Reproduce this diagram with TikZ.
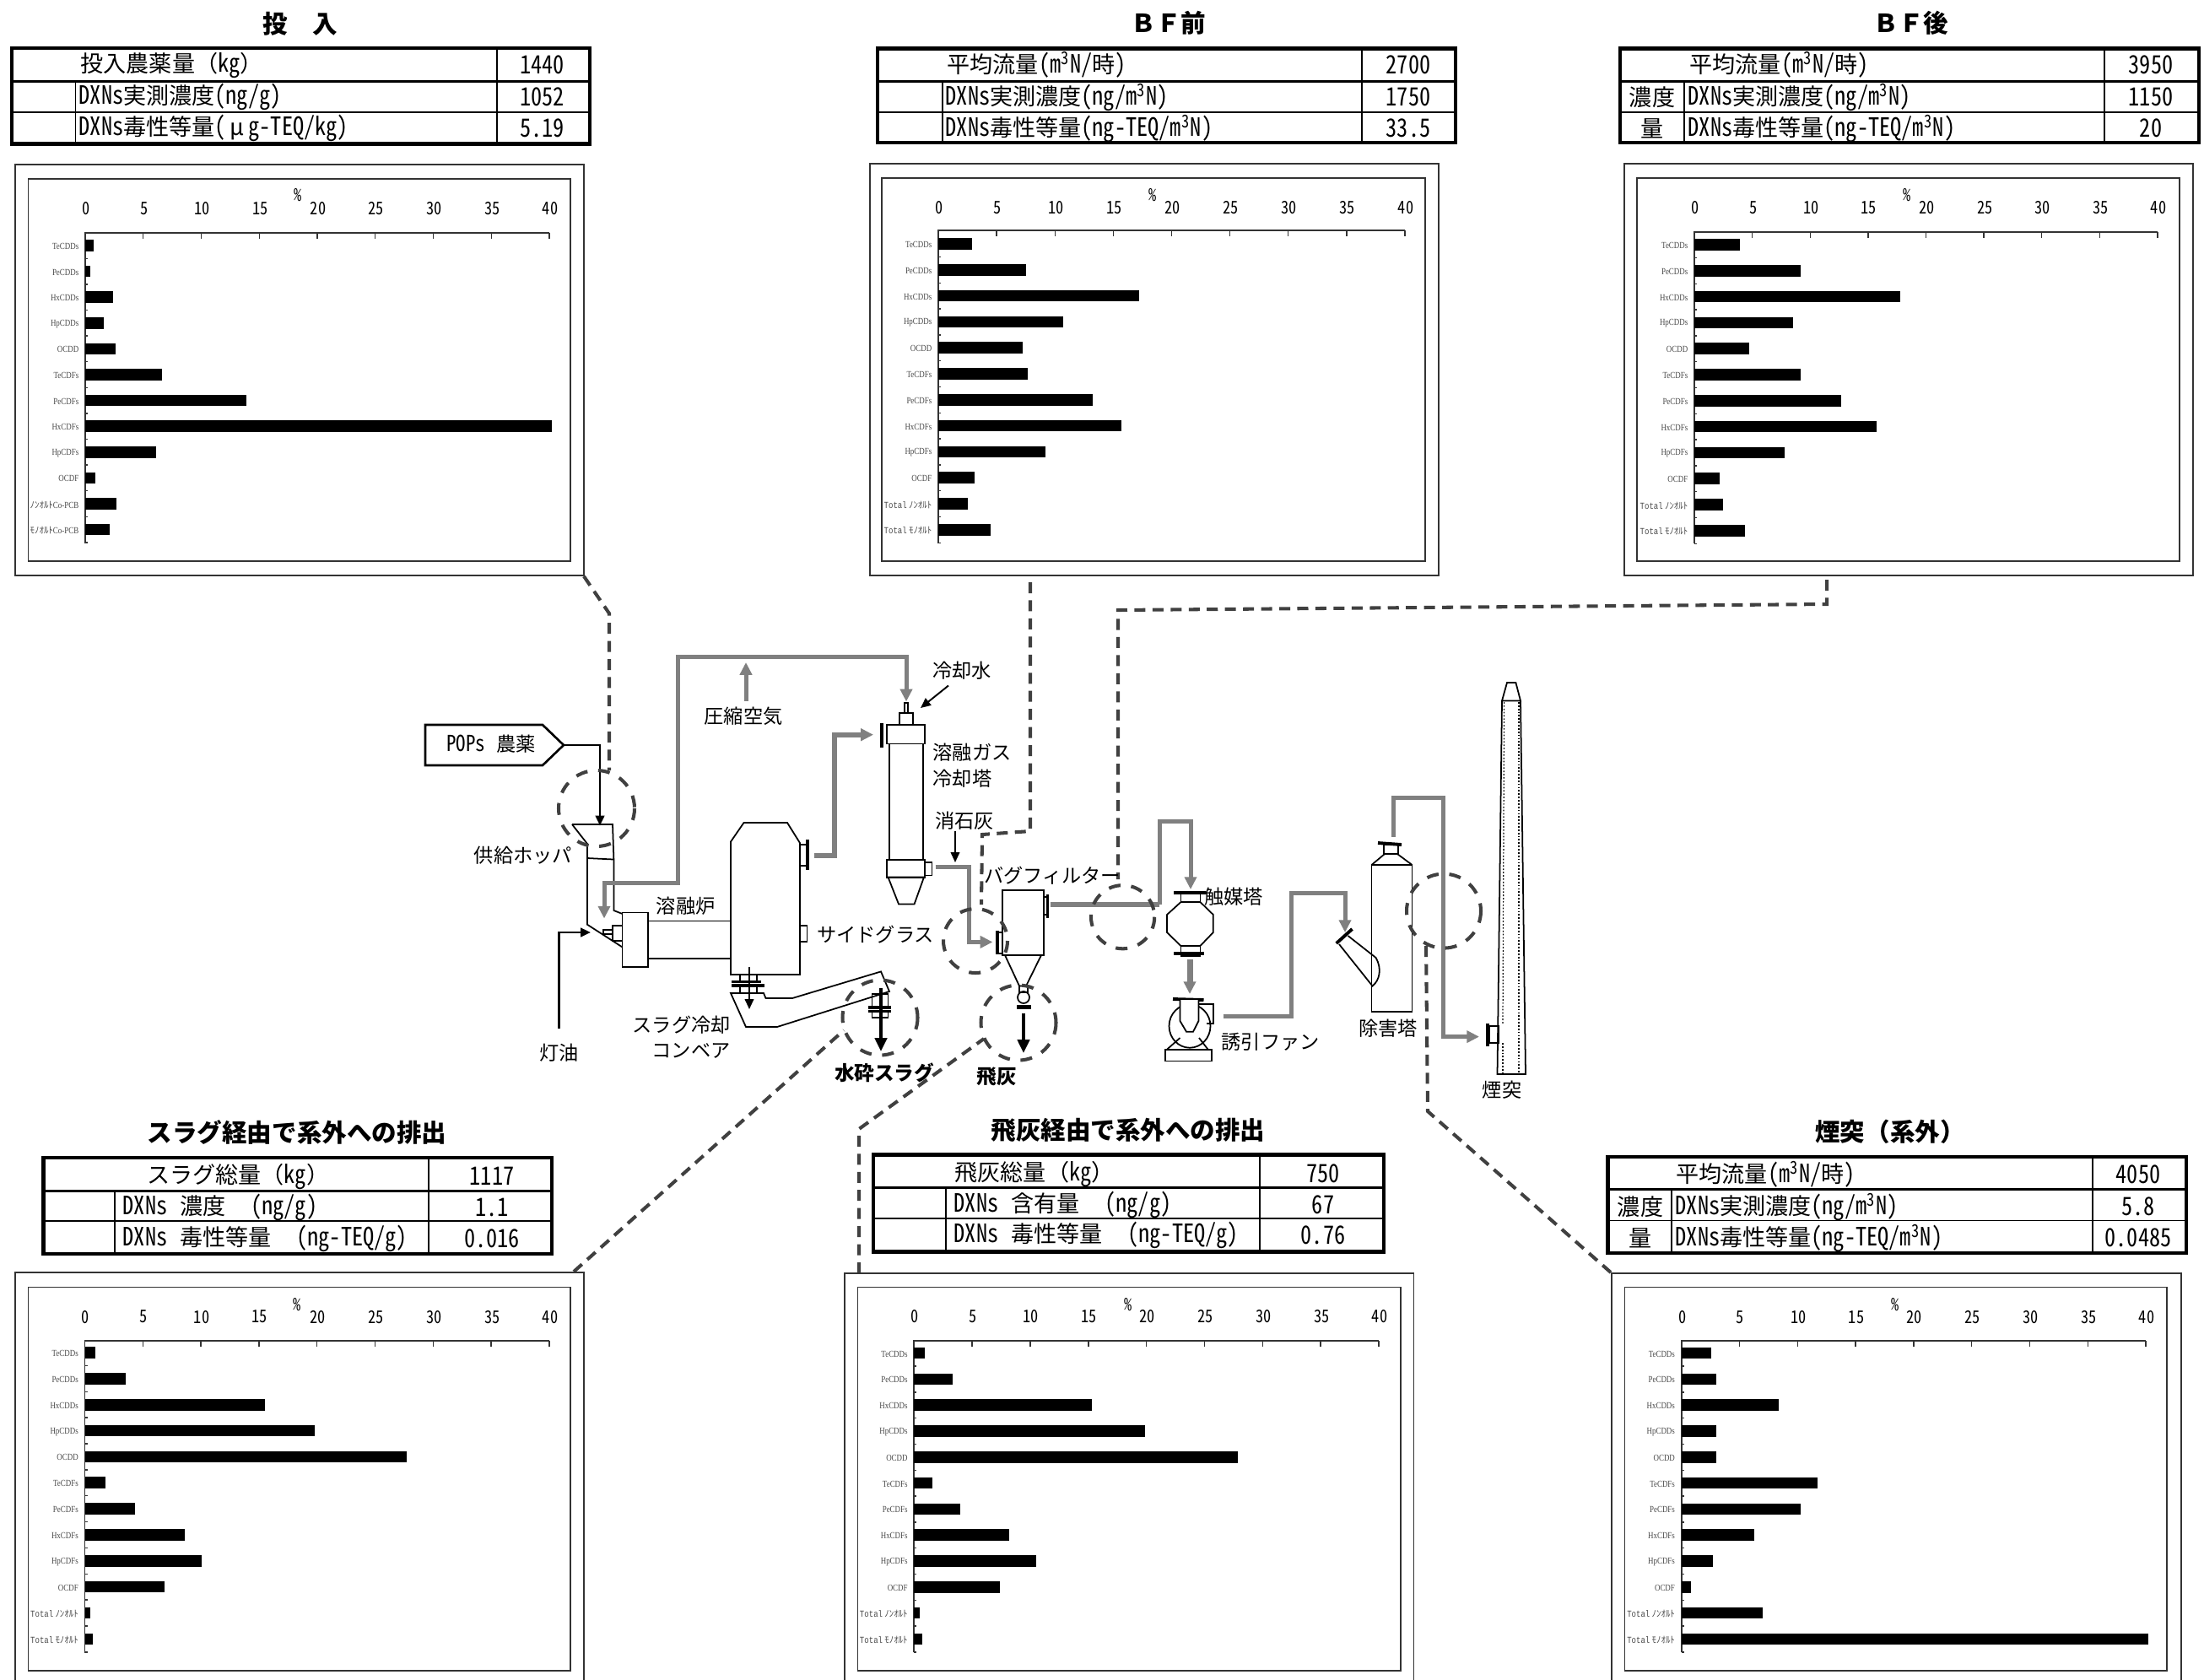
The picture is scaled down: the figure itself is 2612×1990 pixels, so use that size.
\documentclass[tikz,border=0pt]{standalone}
\usepackage{fontspec}
\usetikzlibrary{arrows.meta}
\setmainfont{Liberation Sans}
\newfontfamily\jp{Noto Sans CJK JP}
\newfontfamily\hw[RawFeature=+hwid,FakeStretch=0.88]{Noto Sans CJK JP}
\newfontfamily\catf[FakeStretch=0.82]{Liberation Serif}
\newfontfamily\catm[FakeStretch=0.83]{Liberation Mono}
\newcommand\J[1]{{\fontsize{7.7}{9}\selectfont\jp #1}}
\newcommand\hs{\hspace{0.5em}}
\newcommand\mth{m\textsuperscript{3}}
\definecolor{pipegray}{HTML}{808080}
\definecolor{dashgray}{HTML}{404040}
\definecolor{framegray}{HTML}{333333}
\definecolor{labgray}{HTML}{4A4A4A}
\tikzset{
  ttxt/.style={font=\fontsize{8.5}{9}\selectfont\hw,inner sep=0pt,anchor=west,yshift=-0.3pt},
  tval/.style={font=\fontsize{8.5}{9}\selectfont\hw,inner sep=0pt,anchor=center,yshift=-0.3pt},
  tjp/.style={font=\fontsize{7.7}{9}\selectfont\jp,inner sep=0pt,anchor=center,yshift=-0.3pt},
  titlef/.style={font=\fontsize{8.4}{10}\selectfont\bfseries\jp,inner sep=0pt,anchor=center},
  plab/.style={font=\fontsize{6.6}{8}\selectfont\jp,inner sep=0pt,anchor=center},
  plabb/.style={font=\fontsize{6.7}{8}\selectfont\bfseries\jp,inner sep=0pt,anchor=center},
  catlab/.style={font=\fontsize{3.1}{3.5}\selectfont\catf,text=labgray,inner sep=0pt,anchor=east},
  ticklab/.style={font=\fontsize{5.9}{6}\selectfont\hw,inner sep=0pt,anchor=center},
  pipe/.style={draw=pipegray,line width=1.42pt,line join=miter},
  pipeb/.style={pipe,line width=1.7pt},
  gtip/.style={-{Triangle[length=4.2pt,width=4pt]}},
  ktip/.style={-{Triangle[length=3.4pt,width=3pt]}},
  blk/.style={draw=black,line width=0.55pt},
  blkm/.style={draw=black,line width=0.75pt},
  blkb/.style={draw=black,line width=1.1pt},
  shpn/.style={draw=black,line width=0.5pt,line join=miter},
  heavy/.style={draw=black,line width=1.1pt},
  dashl/.style={draw=dashgray,line width=1.15pt,dash pattern=on 3.7pt off 2.4pt},
  dashc/.style={draw=dashgray,line width=1.15pt,dash pattern=on 4pt off 3.6pt},
}
% table frame: x0 x1 y0 y1 h1 h2 v1 v2
\newcommand\tblframe[8]{%
  \draw[line width=1.4pt] (#1,#3) rectangle (#2,#4);
  \draw[line width=0.85pt] (#1,#5) -- (#2,#5);
  \draw[line width=0.45pt] (#1,#6) -- (#2,#6);
  \draw[line width=0.45pt] (#7,#5) -- (#7,#4);
  \draw[line width=0.45pt] (#8,#3) -- (#8,#4);
}
% chart: frames
\newcommand\chfr[8]{%
  \draw[framegray,line width=0.45pt] (#1,#3) rectangle (#2,#4);
  \draw[framegray,line width=0.45pt] (#5,#7) rectangle (#6,#8);
}
% chart: axes  id ax0 ax40 top bottom ticklabely pctx pcty
\newcommand\chax[8]{%
  \def\cid{#1}\def\axz{#2}\def\axf{#3}\def\axt{#4}%
  \draw[framegray,line width=0.5pt] (#2,#5) -- (#2,#4) -- (#3,#4);
  \foreach \t [count=\k from 0] in {0,5,...,40}{%
    \pgfmathsetmacro\tx{#2+(#3-#2)*(\t/40)}
    \draw[framegray,line width=0.4pt] (\tx,#4) -- (\tx,#4+7);
    \node[ticklab] (#1-t\k) at (\tx+1,#6) {\t};
  }
  \node[ticklab] (#1-pct) at (#7,#8) {\%};
}
% chart: bars  first pitch values labels
\newcommand\chbars[4]{%
  \foreach \v [count=\k from 0] in {#3}{%
    \pgfmathsetmacro\by{#1+\k*#2}
    \pgfmathsetmacro\bx{\axz+(\axf-\axz)*(\v/40)}
    \fill[black] (\axz,\by-6.8) rectangle (\bx,\by+6.8);
    \pgfmathsetmacro\ty{#1+(\k+0.5)*#2}
    \draw[framegray,line width=0.4pt] (\axz,\ty) -- (\axz+3,\ty);
  }
  \foreach \l [count=\k from 0] in #4{%
    \pgfmathsetmacro\by{#1+\k*#2+1}
    \node[catlab] (\cid-c\k) at (\axz-7,\by) {\l};
  }
}
\def\labsA{TeCDDs,PeCDDs,HxCDDs,HpCDDs,OCDD,TeCDFs,PeCDFs,HxCDFs,HpCDFs,OCDF,{\jp ﾉﾝｵﾙﾄ}Co-PCB,{\jp ﾓﾉｵﾙﾄ}Co-PCB}
\def\labsB{TeCDDs,PeCDDs,HxCDDs,HpCDDs,OCDD,TeCDFs,PeCDFs,HxCDFs,HpCDFs,OCDF,{\catm Total} {\jp ﾉﾝｵﾙﾄ},{\catm Total} {\jp ﾓﾉｵﾙﾄ}}
\begin{document}
\begin{tikzpicture}[x=0.01cm,y=-0.01cm]
\useasboundingbox (0,0) rectangle (2612,1990);
\fill[white] (0,0) rectangle (2612,1990);

%%%%%%%% dashed leaders
\coordinate (ch1c) at (692,683);
\coordinate (ch1m) at (722,727);
\coordinate (ch1e) at (722,913);
\draw[dashl] (ch1c) -- (ch1m) -- (ch1e);
\coordinate (ch2s) at (1221,690);
\coordinate (ch2m) at (1221,985);
\coordinate (ch2n) at (1164,989);
\coordinate (ch2e) at (1163,1072);
\draw[dashl] (ch2s) -- (ch2m) -- (ch2n) -- (ch2e);
\coordinate (ch3s) at (2165,687);
\coordinate (ch3m) at (2165,716);
\coordinate (ch3n) at (1325,723);
\coordinate (ch3e) at (1325,1042);
\draw[dashl] (ch3s) -- (ch3m) -- (ch3n) -- (ch3e);
\coordinate (ch4s) at (680,1507);
\coordinate (ch4e) at (1000,1221);
\draw[dashl] (ch4s) -- (ch4e);
\coordinate (ch5s) at (1018,1509);
\coordinate (ch5m) at (1018,1338);
\coordinate (ch5e) at (1166,1231);
\draw[dashl] (ch5s) -- (ch5m) -- (ch5e);
\coordinate (ch6s) at (1909,1508);
\coordinate (ch6m) at (1692,1317);
\coordinate (ch6e) at (1690,1119);
\draw[dashl] (ch6s) -- (ch6m) -- (ch6e);

%%%%%%%% TOP LEFT
\node[titlef] (t1) at (356,28) {投\hspace{1em}入};
\tblframe{14}{699}{57}{170.5}{96}{133}{89.5}{589}
\node[ttxt] (t1a) at (95,76) {\J{投入農薬量（}kg\J{）}};
\node[ttxt] (t1b) at (93,114) {DXNs\J{実測濃度}(ng/g)};
\node[ttxt] (t1c) at (93,151) {DXNs\J{毒性等量}(\makebox[.9em]{\J{μ}}g-TEQ/kg)};
\node[tval] (t1av) at (642.6,76) {1440};
\node[tval] (t1bv) at (642.6,114) {1052};
\node[tval] (t1cv) at (642.6,151) {5.19};
\chfr{18}{692}{195}{682}{33.5}{676}{212}{665}
\chax{c1}{101}{651}{276}{644}{247}{353}{231}
\chbars{291}{30.6}{0.7,0.45,2.4,1.6,2.6,6.6,13.9,40.2,6.1,0.85,2.7,2.1}{\labsA}

%%%%%%%% TOP MIDDLE
\node[titlef] (t2) at (1385,27) {ＢＦ前};
\tblframe{1040}{1725}{57.6}{169}{96}{133}{1117}{1614}
\node[ttxt] (t2a) at (1122,76) {\J{平均流量}(\mth N/\J{時})};
\node[ttxt] (t2b) at (1120,114) {DXNs\J{実測濃度}(ng/\mth N)};
\node[ttxt] (t2c) at (1120,151) {DXNs\J{毒性等量}(ng-TEQ/\mth N)};
\node[tval] (t2av) at (1669,76) {2700};
\node[tval] (t2bv) at (1669,114) {1750};
\node[tval] (t2cv) at (1669,151) {33.5};
\chfr{1031}{1705}{194}{682}{1045}{1689}{211}{665}
\chax{c2}{1112}{1665}{273}{644}{246}{1366}{231}
\chbars{289}{30.8}{2.9,7.5,17.2,10.7,7.2,7.7,13.2,15.7,9.2,3.1,2.5,4.5}{\labsB}

%%%%%%%% TOP RIGHT
\node[titlef] (t3) at (2265,27) {ＢＦ後};
\tblframe{1920}{2606}{57.6}{169}{96}{133}{1996}{2494}
\node[ttxt] (t3a) at (2002,76) {\J{平均流量}(\mth N/\J{時})};
\node[ttxt] (t3b) at (2000,114) {DXNs\J{実測濃度}(ng/\mth N)};
\node[ttxt] (t3c) at (2000,151) {DXNs\J{毒性等量}(ng-TEQ/\mth N)};
\node[tjp] (t3p) at (1958,114) {濃度};
\node[tjp] (t3q) at (1958,151) {量};
\node[tval] (t3av) at (2549,76) {3950};
\node[tval] (t3bv) at (2549,114) {1150};
\node[tval] (t3cv) at (2549,151) {20};
\chfr{1925}{2599}{194}{682}{1940}{2583}{211}{665}
\chax{c3}{2008}{2557}{275}{644}{246}{2260}{231}
\chbars{290}{30.8}{3.9,9.2,17.8,8.5,4.7,9.2,12.7,15.7,7.8,2.2,2.5,4.4}{\labsB}

%%%%%%%% BOTTOM LEFT
\node[titlef] (t4) at (352,1342) {スラグ経由で系外への排出};
\tblframe{51.4}{654}{1372}{1486}{1411.4}{1447}{136}{508}
\node[ttxt] (t4a) at (173.6,1393) {\J{スラグ総量（}kg\J{）}};
\node[ttxt] (t4b) at (145,1430) {DXNs\hs\J{濃度}\hs\hs (ng/g)};
\node[ttxt] (t4c) at (145,1467) {DXNs\hs\J{毒性等量}\hs\hs (ng-TEQ/g)};
\node[tval] (t4av) at (583,1393) {1117};
\node[tval] (t4bv) at (583,1430) {1.1};
\node[tval] (t4cv) at (583,1467) {0.016};
\chfr{18}{692}{1508}{2005}{33.5}{676}{1525.5}{1980}
\chax{c4}{100.5}{651}{1589}{1959}{1560.6}{352.5}{1545.6}
\chbars{1603}{30.85}{0.9,3.5,15.5,19.8,27.7,1.8,4.3,8.6,10.1,6.9,0.5,0.7}{\labsB}

%%%%%%%% BOTTOM MIDDLE
\node[titlef] (t5) at (1337,1339.5) {飛灰経由で系外への排出};
\tblframe{1035}{1640}{1368.5}{1483.5}{1407.6}{1444}{1120.7}{1493}
\node[ttxt] (t5a) at (1131,1390) {\J{飛灰総量（}kg\J{）}};
\node[ttxt] (t5b) at (1130,1427) {DXNs\hs\J{含有量}\hs\hs (ng/g)};
\node[ttxt] (t5c) at (1130,1463) {DXNs\hs\J{毒性等量}\hs\hs (ng-TEQ/g)};
\node[tval] (t5av) at (1568,1390) {750};
\node[tval] (t5bv) at (1568,1427) {67};
\node[tval] (t5cv) at (1568,1463) {0.76};
\chfr{1001}{1675.6}{1509}{2005}{1016.4}{1659.8}{1525.6}{1980}
\chax{c5}{1083.3}{1634}{1589}{1958.4}{1560}{1337}{1546}
\chbars{1603.6}{30.8}{0.9,3.3,15.3,19.9,27.9,1.6,4.0,8.2,10.5,7.4,0.5,0.7}{\labsB}

%%%%%%%% BOTTOM RIGHT
\node[titlef] (t6) at (2240,1341) {煙突（系外）};
\tblframe{1905.4}{2591}{1371}{1485}{1409.7}{1446.6}{1981}{2480}
\node[ttxt] (t6a) at (1986,1391) {\J{平均流量}(\mth N/\J{時})};
\node[ttxt] (t6b) at (1985,1429) {DXNs\J{実測濃度}(ng/\mth N)};
\node[ttxt] (t6c) at (1985,1466) {DXNs\J{毒性等量}(ng-TEQ/\mth N)};
\node[tjp] (t6p) at (1944,1429) {濃度};
\node[tjp] (t6q) at (1944,1466) {量};
\node[tval] (t6av) at (2534,1391) {4050};
\node[tval] (t6bv) at (2534,1429) {5.8};
\node[tval] (t6cv) at (2534,1466) {0.0485};
\chfr{1910}{2585}{1509}{2005}{1925.4}{2568}{1525.6}{1980}
\chax{c6}{1992.6}{2543}{1589}{1958}{1560.7}{2246}{1546}
\chbars{1603.6}{30.8}{2.6,3.0,8.4,3.0,3.0,11.7,10.3,6.3,2.7,0.8,7.0,40.2}{\labsB}

%%%%%%%% PROCESS: equipment
% POPs feed
\draw[blkm,line join=miter] (504,859) -- (643,859) -- (668,883) -- (643,907) -- (504,907) -- cycle;
\node[plab,font=\fontsize{7.4}{8}\selectfont\hw] (pops) at (582,882) {POPs\hs{\fontsize{6.6}{8}\selectfont\jp 農薬}};
% hopper + chute
\draw[shpn] (678,977) -- (726,977) -- (727.4,1018.5) -- (727.4,1079) -- (737.6,1083);
\draw[shpn] (678,977) -- (696,1000) -- (696,1095.7) -- (737.6,1122.5);
\draw[shpn] (696,1017) -- (727,1018.5);
% burner
\draw[shpn] (726,1097) rectangle (737.6,1115);
\draw[shpn] (714.7,1102) rectangle (726,1107);
% furnace
\draw[shpn] (737.6,1081.4) rectangle (768,1145.7);
\draw[shpn] (768,1091.4) -- (866,1091.4);
\draw[shpn] (768,1135.7) -- (866,1135.7);
\draw[shpn] (866,1155) -- (866,997.5) -- (881.5,975) -- (933,975) -- (948,999) -- (948,1155) -- cycle;
\draw[shpn] (948,1001) rectangle (956,1026);
\draw[heavy] (957,995) -- (957,1031.4);
\draw[shpn] (948,1097) rectangle (956.5,1115.7);
% slag chute under the furnace
\draw[shpn] (877,1155) rectangle (897,1163.5);
\draw[heavy] (867,1163.5) -- (902,1163.5);
\draw[heavy] (867,1168) -- (906,1168);
\draw[shpn] (877,1169) rectangle (897,1177);
\draw[shpn] (866,1177) -- (905,1177) -- (907.5,1183) -- (939,1183) -- (1044,1151.4) -- (1054,1175) -- (921,1217) -- (884,1217) -- cycle;
% slag exit
\draw[shpn] (1033.6,1178) rectangle (1052.5,1194);
\draw[heavy] (1028.5,1194) -- (1055.5,1194);
\draw[heavy] (1028.5,1198.5) -- (1055.5,1198.5);
\draw[shpn] (1033.6,1199) rectangle (1052.5,1205.7);
% cooling tower
\draw[shpn] (1072,833) rectangle (1076,845);
\draw[shpn] (1066,845) rectangle (1082,859);
\draw[shpn] (1051,859) rectangle (1096,881.4);
\draw[heavy] (1045,857) -- (1045,886);
\draw[shpn] (1054,881.4) rectangle (1094,1019);
\draw[shpn] (1051,1019) rectangle (1096,1039.6);
\draw[shpn] (1052.5,1039.6) -- (1095,1039.6) -- (1083.6,1071.4) -- (1065,1071.4) -- cycle;
\draw[shpn] (1096,1022) rectangle (1104.5,1037.5);
% bag filter
\draw[shpn] (1188,1055) rectangle (1237,1132);
\draw[shpn] (1191,1132) -- (1234,1132) -- (1216,1168.5) -- (1208,1168.5) -- cycle;
\draw[shpn] (1182,1105) rectangle (1188,1130);
\draw[heavy] (1181.6,1103) -- (1181.6,1131);
\draw[shpn] (1237,1063) rectangle (1241,1084);
\draw[heavy] (1241.5,1060) -- (1241.5,1087.5);
\draw[shpn] (1208,1168.5) rectangle (1218,1176);
\draw[shpn] (1213,1182) ellipse[x radius=7,y radius=7];
\draw[line width=1.3pt] (1205,1193.5) -- (1222,1193.5);
% catalyst tower
\draw[heavy] (1391,1058) -- (1429,1058);
\draw[shpn] (1399.5,1059) rectangle (1422.4,1069);
\draw[shpn] (1399.5,1069) -- (1422.4,1069) -- (1437.8,1084) -- (1437.8,1105) -- (1422.4,1121) -- (1399.5,1121) -- (1383,1105) -- (1383,1084) -- cycle;
\draw[shpn] (1399.5,1121) rectangle (1422.4,1133);
\draw[heavy] (1391,1130) -- (1427,1130);
% fan
\draw[heavy] (1390,1184) -- (1426.5,1185);
\draw[shpn] (1410,1216) ellipse[x radius=24.5,y radius=25.7];
\draw[shpn,fill=white] (1398.5,1185) -- (1398.5,1210) -- (1406,1222.7) -- (1414,1222.7) -- (1420.4,1210) -- (1420.4,1185);
\draw[shpn] (1420.4,1190) -- (1438,1190) -- (1438,1213) -- (1430,1213);
\draw[shpn] (1398.5,1230) -- (1383,1243.7);
\draw[shpn] (1421,1230) -- (1431.6,1243.7);
\draw[shpn] (1381,1243.7) rectangle (1435.7,1257.5);
% scrubber
\draw[shpn] (1625.5,1025) rectangle (1673.5,1199);
\draw[shpn] (1625.5,1025) -- (1641,1012) -- (1656,1012) -- (1673.5,1025);
\draw[shpn] (1640,1001) rectangle (1657,1012);
\draw[heavy] (1633,999) -- (1661,1001);
\draw[heavy] (1583.7,1118) -- (1602.5,1101);
\draw[shpn] (1587,1119) -- (1626.5,1168.5) .. controls (1635,1162) and (1638,1148) .. (1630.6,1135) -- (1597.5,1109);
% stack
\draw[shpn] (1780,830.5) -- (1786,809) -- (1796.4,809) -- (1802,830.5) -- cycle;
\draw[shpn] (1780,830.5) -- (1774.5,1273) -- (1808,1273) -- (1802,830.5);
\draw[black,line width=0.35pt,dash pattern=on 0.5pt off 0.6pt] (1782.6,832) -- (1781,1214);
\draw[black,line width=0.35pt,dash pattern=on 0.5pt off 0.6pt] (1781,1236) -- (1781,1273);
\draw[black,line width=0.35pt,dash pattern=on 0.5pt off 0.6pt] (1800,832) -- (1800,1273);
\draw[shpn] (1765,1216) rectangle (1776,1236);
\draw[line width=1.3pt] (1763,1213) -- (1763,1240);

%%%%%%%% PROCESS: flows
\coordinate (popsOut) at (668,883);
\coordinate (hopIn) at (711,978.5);
\draw[blkm,ktip] (popsOut) -| (hopIn);
\coordinate (oilS) at (662.6,1219);
\coordinate (oilE) at (700,1105);
\draw[blkm,ktip] (oilS) |- (oilE);
\coordinate (waterS) at (1124,812.5);
\coordinate (waterE) at (1091,839);
\draw[blk,ktip] (waterS) -- (waterE);
\coordinate (limeS) at (1132,985);
\coordinate (limeE) at (1132,1022);
\draw[blk,ktip] (limeS) -- (limeE);
\coordinate (slagS) at (888,1146);
\coordinate (slagE) at (888,1196);
\draw[blk,ktip] (slagS) -- (slagE);
\coordinate (wsS) at (1044,1171);
\coordinate (wsE) at (1044,1246);
\draw[blkb,-{Triangle[length=4.5pt,width=4pt]}] (wsS) -- (wsE);
\coordinate (ashS) at (1213,1201);
\coordinate (ashE) at (1213,1248);
\draw[blkb,-{Triangle[length=4.5pt,width=4pt]}] (ashS) -- (ashE);

\coordinate (airHop) at (716,1088.5);
\coordinate (airA) at (803,1046.4);
\coordinate (airB) at (803,778);
\coordinate (airC) at (1074,778);
\coordinate (airTw) at (1074,831.4);
\draw[pipe,{Triangle[length=4.2pt,width=4pt]}-{Triangle[length=4.2pt,width=4pt]}] (airHop) |- (airA) -- (airB) -- (airC) -- (airTw);
\coordinate (caS) at (884,831);
\coordinate (caE) at (884,785);
\draw[pipe,gtip] (caS) -- (caE);
\coordinate (fuOut) at (965,1013.5);
\coordinate (fuB) at (989,870.7);
\coordinate (twIn) at (1035,870.7);
\draw[pipeb,gtip] (fuOut) -| (fuB) -- (twIn);
\coordinate (twOut) at (1108.6,1027);
\coordinate (bfIn) at (1176.4,1116.4);
\coordinate (twM) at (1148.4,1027);
\draw[pipe,gtip] (twOut) -- (twM) |- (bfIn);
\coordinate (bfOut) at (1245,1071.7);
\coordinate (bfM) at (1374,1071.7);
\coordinate (bfT) at (1374,973);
\coordinate (bfU) at (1411,973);
\coordinate (catIn) at (1411,1054);
\draw[pipeb] (bfOut) -- (bfM);
\draw[pipe,gtip] (bfM) -- (bfT) -- (bfU) -- (catIn);
\coordinate (catOut) at (1410,1137);
\coordinate (fanIn) at (1410,1178);
\draw[pipeb,line width=2pt,gtip] (catOut) -- (fanIn);
\coordinate (fanOut) at (1449.5,1204);
\coordinate (fanM) at (1530,1204);
\coordinate (fanT) at (1530,1058);
\coordinate (fanR) at (1594,1058);
\coordinate (scrIn) at (1594,1105);
\draw[pipe,gtip] (fanOut) -- (fanM) -- (fanT) -- (fanR) -- (scrIn);
\coordinate (scrOut) at (1651.5,992);
\coordinate (scrT) at (1651.5,945);
\coordinate (scrR) at (1710.7,945);
\coordinate (stackIn) at (1753,1228.6);
\draw[pipe,gtip] (scrOut) -- (scrT) -- (scrR) |- (stackIn);

%%%%%%%% dashed circles
\coordinate (cA) at (707,958);
\coordinate (cB) at (1043,1206);
\coordinate (cC) at (1156,1115);
\coordinate (cD) at (1207,1212);
\coordinate (cE) at (1330.6,1086.7);
\coordinate (cF) at (1711,1079.6);
\draw[dashc] (cA) circle[radius=45];
\draw[dashc] (cB) circle[radius=44.5];
\draw[dashc] (cC) circle[radius=38];
\draw[dashc] (cD) circle[radius=44.5];
\draw[dashc] (cE) circle[radius=37.6];
\draw[dashc] (cF) circle[radius=44];

%%%%%%%% PROCESS: labels
\node[plab] (lhop) at (620,1014) {供給ホッパ};
\node[plab] (lair) at (881,849) {圧縮空気};
\node[plab] (lwat) at (1140,795) {冷却水};
\node[plab,anchor=west] (lgas) at (1105,891.4) {溶融ガス};
\node[plab,anchor=west] (lcol) at (1105,922.5) {冷却塔};
\node[plab] (llim) at (1143,973) {消石灰};
\node[plab] (lfur) at (812.6,1074) {溶融炉};
\node[plab] (lsid) at (1037.6,1108) {サイドグラス};
\node[plab] (lbag) at (1247,1038) {バグフィルター};
\node[plab] (lcat) at (1462,1063) {触媒塔};
\node[plab] (lfan) at (1505.6,1234.6) {誘引ファン};
\node[plab] (lscr) at (1645,1219) {除害塔};
\node[plab] (lsta) at (1780,1292) {煙突};
\node[plab] (loil) at (662.6,1247.5) {灯油};
\node[plab] (lcv1) at (807.6,1215) {スラグ冷却};
\node[plab] (lcv2) at (819,1245.7) {コンベア};
\node[plabb] (lsl) at (1048,1271) {水砕スラグ};
\node[plabb] (lfa) at (1181.5,1276) {飛灰};
\end{tikzpicture}
\end{document}
